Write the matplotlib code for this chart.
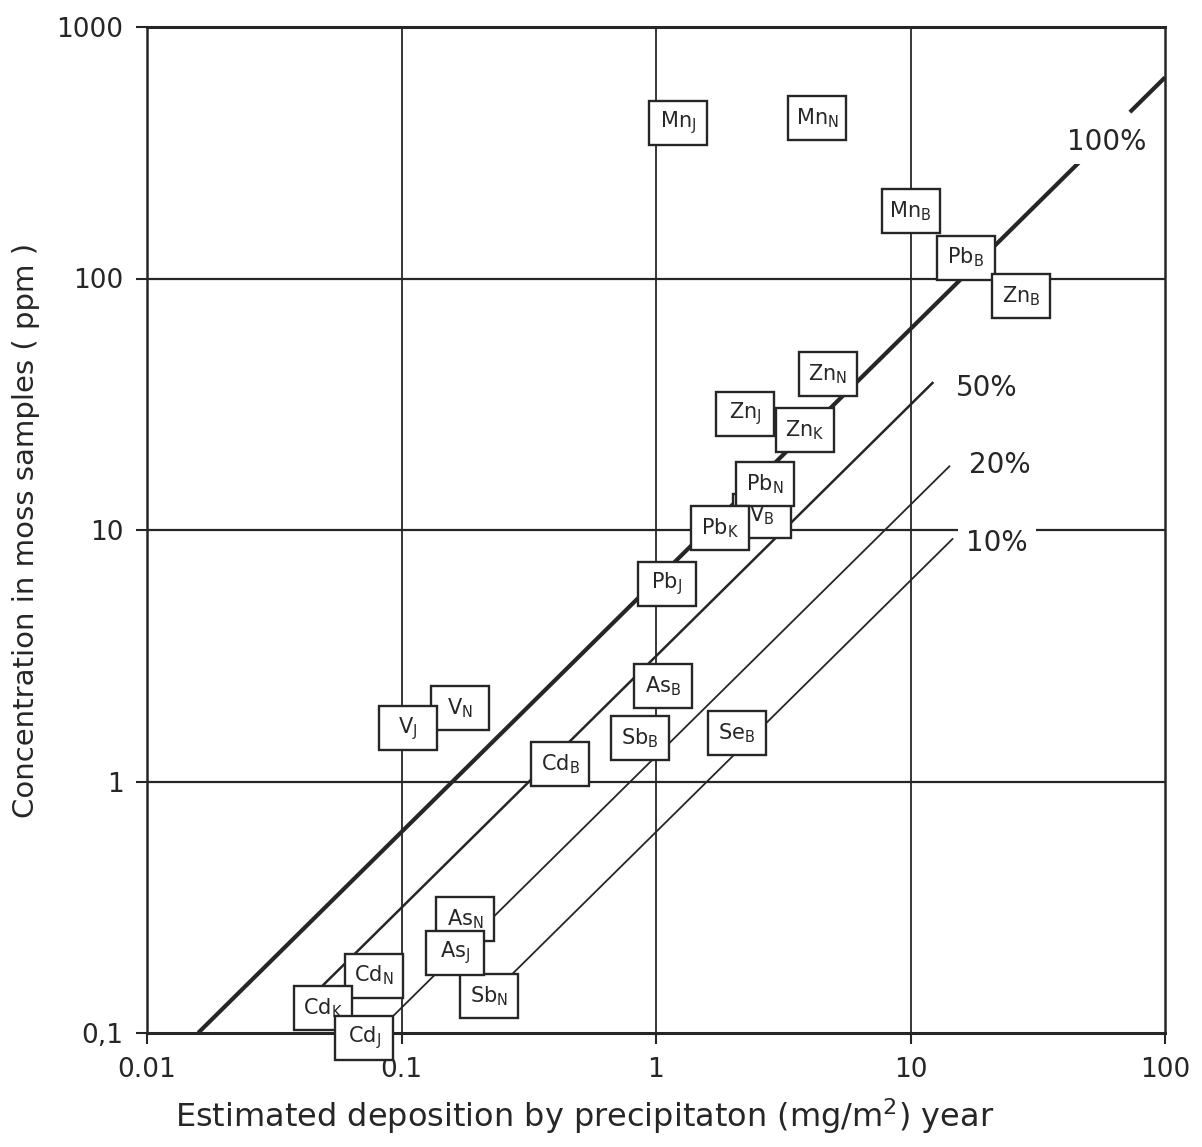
import matplotlib
matplotlib.use("Agg")
import matplotlib.pyplot as plt
import matplotlib.transforms as mtransforms
from matplotlib.patches import Rectangle
import numpy as np

plt.rcParams['font.family'] = ['DejaVu Sans']
plt.rcParams['mathtext.default'] = 'regular'

INK = '#262626'

# ---- data: labelled points (deposition mg/m2/yr, concentration ppm) ----
elements = ['Mn', 'Mn', 'Mn', 'Pb', 'Zn', 'Zn', 'Zn', 'Zn', 'V', 'Pb', 'Pb', 'Pb',
            'As', 'Sb', 'Se', 'Cd', 'V', 'V', 'As', 'Sb', 'As', 'Cd', 'Cd', 'Cd']
sites = ['J', 'N', 'B', 'B', 'B', 'J', 'K', 'N', 'B', 'N', 'K', 'J',
         'B', 'B', 'B', 'B', 'N', 'J', 'N', 'N', 'J', 'N', 'K', 'J']
deposition = [1.22, 4.29, 10.0, 16.5, 27.2, 2.24, 3.85, 4.74, 2.61, 2.68, 1.78, 1.10,
              1.07, 0.865, 2.08, 0.42, 0.170, 0.106, 0.178, 0.221, 0.162, 0.078, 0.0491, 0.0713]
concentration = [415, 435, 185, 121, 85.2, 28.9, 25.0, 41.7, 11.4, 15.2, 10.2, 6.1,
                 2.40, 1.49, 1.56, 1.17, 1.96, 1.63, 0.284, 0.140, 0.208, 0.169, 0.126, 0.0955]

# ---- reference lines: conc = factor * fraction * deposition ----
line_factor = 6.3
fractions = [1.0, 0.5, 0.2, 0.1]
line_labels = ['100%', '50%', '20%', '10%']
line_x_start = [0.0159, 0.042, 0.079, 0.25]
line_x_end = [100, 12.3, 14.3, 14.7]
gap_100 = [47.2, 72.8]  # break in 100% line around its label
label_pos_x = [59, 20, 22.5, 21.9]
label_pos_y = [349, 36.7, 18.1, 8.87]
line_widths = [3.0, 1.8, 1.3, 1.3]

x_ticks = [0.01, 0.1, 1, 10, 100]
x_ticklabels = ['0.01', '0.1', '1', '10', '100']
y_ticks = [0.1, 1, 10, 100, 1000]
y_ticklabels = ['0,1', '1', '10', '100', '1000']

fig = plt.figure(figsize=(12.02, 11.47), dpi=100)
ax = fig.add_axes([147 / 1202, 1 - 1033 / 1147, (1165 - 147) / 1202, (1033 - 27) / 1147])
ax.set_xscale('log')
ax.set_yscale('log')
ax.set_xlim(0.01, 100)
ax.set_ylim(0.1, 1000)

# grid
for gx in [0.1, 1, 10]:
    ax.axvline(gx, color=INK, lw=1.3, zorder=1)
for gy in [1, 10, 100]:
    ax.axhline(gy, color=INK, lw=1.6, zorder=1)

# fraction lines
for i, f in enumerate(fractions):
    if f == 1.0:
        segs = [(line_x_start[i], gap_100[0]), (gap_100[1], line_x_end[i])]
    else:
        segs = [(line_x_start[i], line_x_end[i])]
    for a, b in segs:
        xs = np.array([a, b])
        ax.plot(xs, line_factor * f * xs, color=INK, lw=line_widths[i],
                solid_capstyle='butt', zorder=2)
    ax.text(label_pos_x[i], label_pos_y[i], line_labels[i], fontsize=20, color=INK,
            ha='center', va='center', zorder=3,
            bbox=dict(boxstyle='square,pad=0.3', fc='white', ec='none'))

# labelled boxes (fixed size boxes, in inches around the data point)
box_w, box_h = 0.58, 0.44
for k, (el, s, x, y) in enumerate(zip(elements, sites, deposition, concentration)):
    trans = fig.dpi_scale_trans + mtransforms.ScaledTranslation(x, y, ax.transData)
    rect = Rectangle((-box_w / 2, -box_h / 2), box_w, box_h, transform=trans,
                     fc='white', ec=INK, lw=1.7, zorder=5 + 2 * k, clip_on=False)
    ax.add_patch(rect)
    ax.text(x, y, el + '$_{' + s + '}$', fontsize=15, color=INK, ha='center', va='center',
            zorder=6 + 2 * k, clip_on=False)

# axes styling
for sp in ax.spines.values():
    sp.set_color(INK)
    sp.set_linewidth(1.8)
ax.spines['top'].set_linewidth(2.2)
ax.spines['bottom'].set_linewidth(2.2)

ax.set_xticks(x_ticks)
ax.set_xticklabels(x_ticklabels)
ax.set_yticks(y_ticks)
ax.set_yticklabels(y_ticklabels)
ax.minorticks_off()
ax.tick_params(direction='out', length=8, width=1.5, color=INK, labelsize=19,
               labelcolor=INK, pad=9)

ax.set_xlabel('Estimated deposition by precipitaton (mg/m$^2$) year', fontsize=23,
              color=INK, va='center')
ax.xaxis.set_label_coords(0.43, -0.083)
ax.set_ylabel('Concentration in moss samples ( ppm )', fontsize=21, color=INK, labelpad=12)

fig.savefig('out.png', dpi=100, facecolor='white')
